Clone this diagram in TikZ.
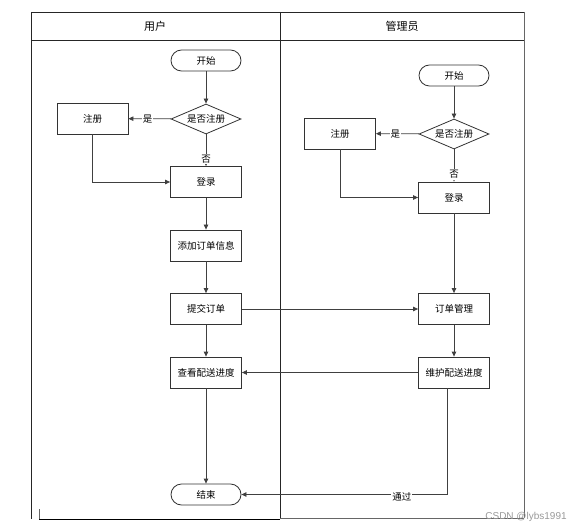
\documentclass[tikz,border=0pt]{standalone}
\usepackage{fontspec}
\setmainfont{Noto Sans CJK SC}
\newfontfamily\wmfont{Liberation Sans}
\usetikzlibrary{arrows.meta,shapes.geometric}
\begin{document}
\begin{tikzpicture}[x=1pt,y=-1pt,
  txt/.style={font=\fontsize{9.5}{10}\selectfont},
  box/.style={txt, draw=black!80, line width=0.8pt, fill=white, minimum width=71pt, minimum height=31pt, inner sep=0pt},
  term/.style={txt, draw=black!80, line width=0.8pt, fill=white, rounded corners=10.5pt, minimum width=70pt, minimum height=21pt, inner sep=0pt},
  dec/.style={txt, diamond, draw=black!80, line width=0.8pt, fill=white, aspect=2.33, minimum width=70pt, minimum height=30pt, inner sep=0pt},
  arr/.style={draw=black!75, line width=0.8pt, -{Triangle[length=5pt,width=4.5pt]}},
  lbl/.style={txt, fill=white, inner sep=1pt},
  frame/.style={draw=black!85, line width=0.8pt},
  head/.style={font=\fontsize{11}{12}\selectfont}]
\useasboundingbox (0,0) rectangle (575,529);

% swimlane frame
\draw[frame] (31,12) -- (524,12);
\draw[frame] (31,40) -- (524,40);
\draw[frame] (31,12) -- (31,519);
\draw[frame] (280,12) -- (280,518);
\draw[frame, draw=black!60] (524,12) -- (524,518);
\draw[frame, draw=black!60] (280,518) -- (524,518);
\draw[frame, draw=black] (39,519) -- (280,519);
\draw[frame, draw=black!60] (39,509) -- (39,519);
\node[head] (h1) at (155,26) {用户};
\node[head] (h2) at (402,26) {管理员};

% user lane
\node[term] (us) at (206,60.5) {开始};
\node[dec]  (ud) at (206,119) {是否注册};
\node[box]  (ur) at (92.5,118.5) {注册};
\node[box]  (ul) at (206,182) {登录};
\node[box]  (ua) at (206,245.5) {添加订单信息};
\node[box]  (ut) at (206,309) {提交订单};
\node[box]  (uv) at (206,372.5) {查看配送进度};
\node[term] (ue) at (206,494.5) {结束};

% admin lane
\node[term] (as) at (454,75.5) {开始};
\node[dec]  (ad) at (454,134) {是否注册};
\node[box]  (ar) at (340,133.5) {注册};
\node[box]  (al) at (454,197.5) {登录};
\node[box]  (am) at (454,309) {订单管理};
\node[box]  (aw) at (454,372.5) {维护配送进度};

% user connectors
\draw[arr] (us) -- (ud);
\draw[arr] (ud) -- node[lbl, pos=0.55]{是} (ur);
\draw[arr] (ud) -- node[lbl, pos=0.78]{否} (ul);
\draw[arr] (ur) |- (ul);
\draw[arr] (ul) -- (ua);
\draw[arr] (ua) -- (ut);
\draw[arr] (ut) -- (uv);
\draw[arr] (uv) -- (ue);

% admin connectors
\draw[arr] (as) -- (ad);
\draw[arr] (ad) -- node[lbl, pos=0.55]{是} (ar);
\draw[arr] (ad) -- node[lbl, pos=0.78]{否} (al);
\draw[arr] (ar) |- (al);
\draw[arr] (al) -- (am);
\draw[arr] (am) -- (aw);

% cross-lane connectors
\draw[arr] (ut) -- (am);
\draw[arr] (aw) -- (uv);
\coordinate (wx) at ([xshift=-7pt]aw.south);
\draw[arr] (wx) |- node[lbl, pos=0.61, yshift=-2pt]{通过} (ue);

% watermark
\node[font=\wmfont\fontsize{10}{11}\selectfont, text=black!40] (wm) at (526,517) {CSDN @lybs1991};
\end{tikzpicture}
\end{document}
